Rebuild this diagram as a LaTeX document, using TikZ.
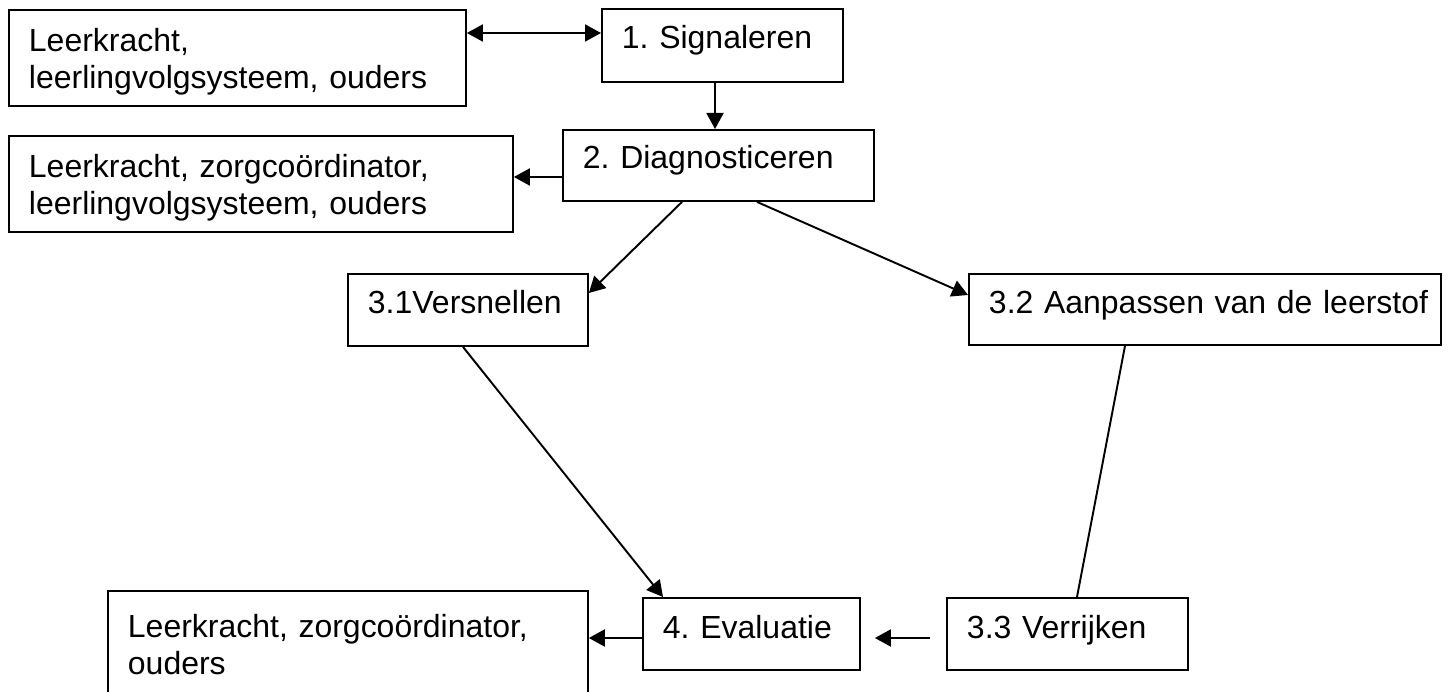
\documentclass[tikz,border=0pt]{standalone}
\usepackage{fontspec}
\setmainfont{Liberation Sans}
\usepackage{tikz}
\usetikzlibrary{arrows.meta}
\frenchspacing

\begin{document}
\begin{tikzpicture}[x=0.02cm, y=-0.02cm, line width=1.1pt,
		blok/.style n args={3}{draw, anchor=north west, inner xsep=0.4cm, inner ysep=0pt,
			align=left, text width=#1, text height=#2, text depth=#3,
			font=\fontsize{18.2pt}{20.8pt}\selectfont},
		pijl/.style={-{Triangle[length=0.32cm,width=0.34cm]}},
		pijlen/.style={{Triangle[length=0.32cm,width=0.34cm]}-{Triangle[length=0.32cm,width=0.34cm]}}]
		%%%%% START %%%%%
		\useasboundingbox (0, 0) rectangle (1454, 692);
		
		\node[blok={8.34cm}{0.84cm}{1.08cm}] (leer1) at (8, 9) {Leerkracht,\\leerlingvolgsysteem, ouders};
		\node[blok={4.02cm}{0.80cm}{0.66cm}] (sig) at (601, 8) {1. Signaleren};
		
		\node[blok={9.28cm}{0.84cm}{1.08cm}] (zorg1) at (8, 135) {Leerkracht, zorgcoördinator,\\leerlingvolgsysteem, ouders};
		\node[blok={5.42cm}{0.78cm}{0.64cm}] (diag) at (562, 129) {2. Diagnosticeren};
		
		\node[blok={4.00cm}{0.80cm}{0.64cm}] (versn) at (347, 273) {3.1Versnellen};
		\node[blok={8.64cm}{0.80cm}{0.62cm}] (aanp) at (968, 273) {\mbox{3.2 Aanpassen van de leerstof}};
		
		\node[blok={8.80cm}{0.94cm}{2.06cm}] (zorg2) at (107, 590) {Leerkracht, zorgcoördinator,\\ouders};
		\node[blok={3.54cm}{0.82cm}{0.62cm}] (eval) at (642, 597) {4. Evaluatie};
		\node[blok={4.02cm}{0.82cm}{0.62cm}] (verr) at (946, 597) {3.3 Verrijken};
		
		\draw[pijlen] (leer1.east |- 0,33) -- (sig.west |- 0,33);
		\draw[pijl] (sig.south -| 715,0) -- (diag.north -| 715,0);
		\draw[pijl] (diag.west |- 0,177) -- (zorg1.east |- 0,177);
		\draw[pijl] (diag.south -| 682,0) -- (versn.east |- 0,293);
		\draw[pijl] (diag.south -| 757,0) -- (aanp.west |- 0,295);
		\draw[pijl] (versn.south -| 463,0) -- (eval.north -| 663,0);
		\draw (aanp.south -| 1125,0) -- (verr.north -| 1077,0);
		\draw[pijl, shorten <=0.32cm, shorten >=0.28cm] (verr.west |- 0,638) -- (eval.east |- 0,638);
		\draw[pijl] (eval.west |- 0,638) -- (zorg2.east |- 0,638);
		%%%%% END %%%%%
	\end{tikzpicture}
\end{document}
